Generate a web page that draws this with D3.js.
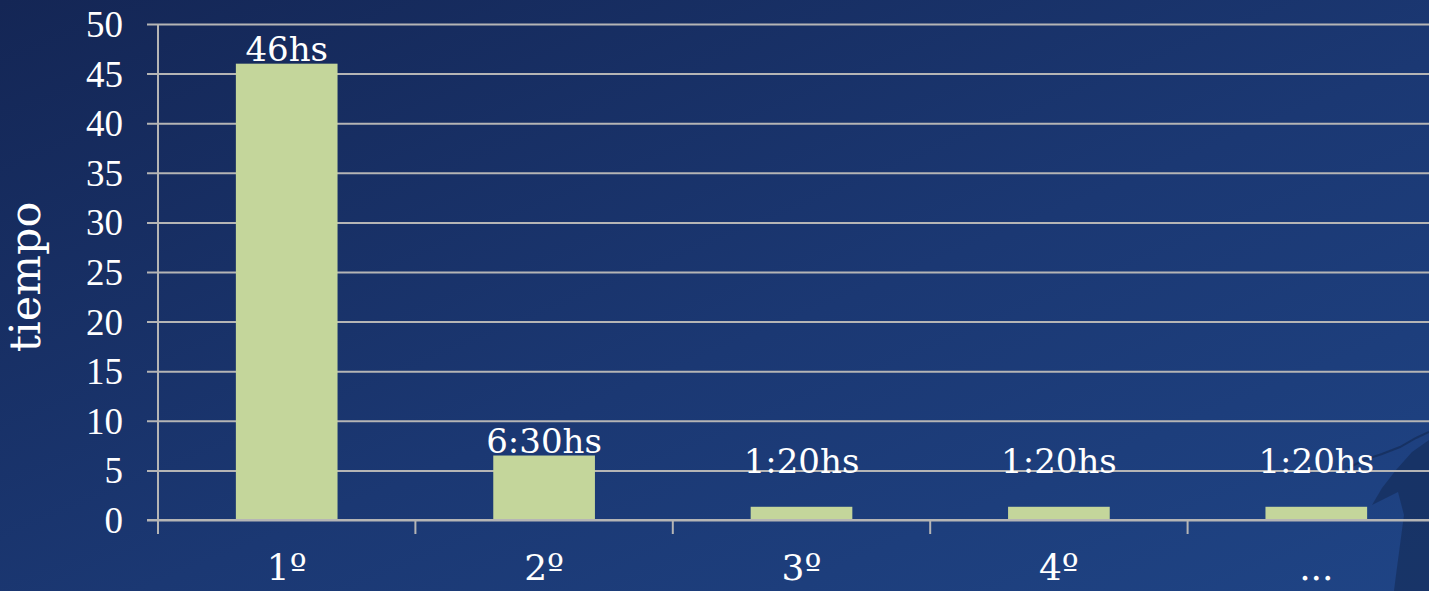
<!DOCTYPE html>
<html>
<head>
<meta charset="utf-8">
<script src="https://cdn.jsdelivr.net/npm/d3@7"></script>
<style>
  html, body { margin: 0; padding: 0; overflow: hidden; background: #1a3468; }
  svg { display: block; }
</style>
</head>
<body>
<svg id="chart" width="1429" height="591"></svg>
<script>
// ---- data ----
const categories = ["1º", "2º", "3º", "4º", "..."];
const hours = [46, 6.5, 1.333, 1.333, 1.333];
const valueLabels = ["46hs", "6:30hs", "1:20hs", "1:20hs", "1:20hs"];
const yTicks = [0, 5, 10, 15, 20, 25, 30, 35, 40, 45, 50];
const yTitle = "tiempo";

const W = 1429, H = 591;
const svg = d3.select("#chart");

// background gradient
const defs = svg.append("defs");
const grad = defs.append("linearGradient").attr("id", "bg")
  .attr("x1", "0%").attr("y1", "0%").attr("x2", "100%").attr("y2", "100%");
grad.append("stop").attr("offset", "0%").attr("stop-color", "#142655");
grad.append("stop").attr("offset", "55%").attr("stop-color", "#1b3873");
grad.append("stop").attr("offset", "100%").attr("stop-color", "#1f4485");
svg.append("rect").attr("width", W).attr("height", H).attr("fill", "url(#bg)");

// decorative dark silhouette at bottom right
svg.append("path")
  .attr("d", "M1429,440 L1412,452 L1396,470 L1382,488 L1372,505 L1386,498 L1398,492 L1404,515 L1400,545 L1396,575 L1394,591 L1429,591 Z")
  .attr("fill", "#132850").attr("opacity", 0.55);
svg.append("path")
  .attr("d", "M1348,468 L1364,460 L1382,454 L1400,447 L1416,438 L1429,432")
  .attr("fill", "none").attr("stroke", "#132850").attr("stroke-width", 2).attr("opacity", 0.6);

// scales
const x = d3.scaleBand().domain(categories).range([158, 1445])
  .paddingInner(0.605).paddingOuter(0.3025);
const y = d3.scaleLinear().domain([0, 50]).range([520, 24]);

const gridColor = "#b5b5b5";

// y axis with gridlines
const yAxis = d3.axisLeft(y).tickValues(yTicks)
  .tickSizeInner(-(W - 147)).tickSizeOuter(0).tickPadding(24);
const gy = svg.append("g").attr("transform", "translate(147,0)").call(yAxis);
gy.attr("font-family", null).attr("font-size", null);
gy.select(".domain").remove();
gy.selectAll(".tick line").attr("stroke", gridColor).attr("stroke-width", 2);
gy.selectAll(".tick text")
  .attr("fill", "#ffffff")
  .style("font-family", "'Liberation Serif', 'Times New Roman', serif")
  .style("font-size", "37px")
  .attr("dy", "0.34em");

// vertical axis line
svg.append("line")
  .attr("x1", 158).attr("x2", 158)
  .attr("y1", y(50)).attr("y2", y(0))
  .attr("stroke", gridColor).attr("stroke-width", 2);

// bars
svg.append("g").selectAll("rect").data(hours).join("rect")
  .attr("x", (d, i) => x(categories[i]))
  .attr("y", d => y(d))
  .attr("width", x.bandwidth())
  .attr("height", d => y(0) - y(d))
  .attr("fill", "#c4d69b");

// x axis line over bars' base
svg.append("line")
  .attr("x1", 147).attr("x2", W)
  .attr("y1", y(0)).attr("y2", y(0))
  .attr("stroke", gridColor).attr("stroke-width", 2);

// category boundary ticks
const step = x.step();
const boundaries = categories.map(c => x(c) - (step - x.bandwidth()) / 2);
svg.append("g").selectAll("line").data(boundaries).join("line")
  .attr("x1", d => d).attr("x2", d => d)
  .attr("y1", y(0)).attr("y2", y(0) + 14)
  .attr("stroke", gridColor).attr("stroke-width", 2);

// x labels
svg.append("g").selectAll("text").data(categories).join("text")
  .attr("x", d => x(d) + x.bandwidth() / 2)
  .attr("y", 580)
  .attr("text-anchor", "middle")
  .attr("fill", "#ffffff")
  .attr("font-family", "'DejaVu Serif', serif")
  .attr("font-size", 36)
  .text(d => d);

// value labels
svg.append("g").selectAll("text").data(hours).join("text")
  .attr("x", (d, i) => x(categories[i]) + x.bandwidth() / 2)
  .attr("y", d => Math.min(y(d) - 3, y(0) - 47))
  .attr("text-anchor", "middle")
  .attr("fill", "#ffffff")
  .attr("font-family", "'DejaVu Serif', serif")
  .attr("font-size", 34)
  .text((d, i) => valueLabels[i]);

// y title
svg.append("text")
  .attr("transform", "translate(40,277) rotate(-90)")
  .attr("text-anchor", "middle")
  .attr("fill", "#ffffff")
  .attr("font-family", "'DejaVu Serif', serif")
  .attr("font-size", 43)
  .text(yTitle);
</script>
</body>
</html>
